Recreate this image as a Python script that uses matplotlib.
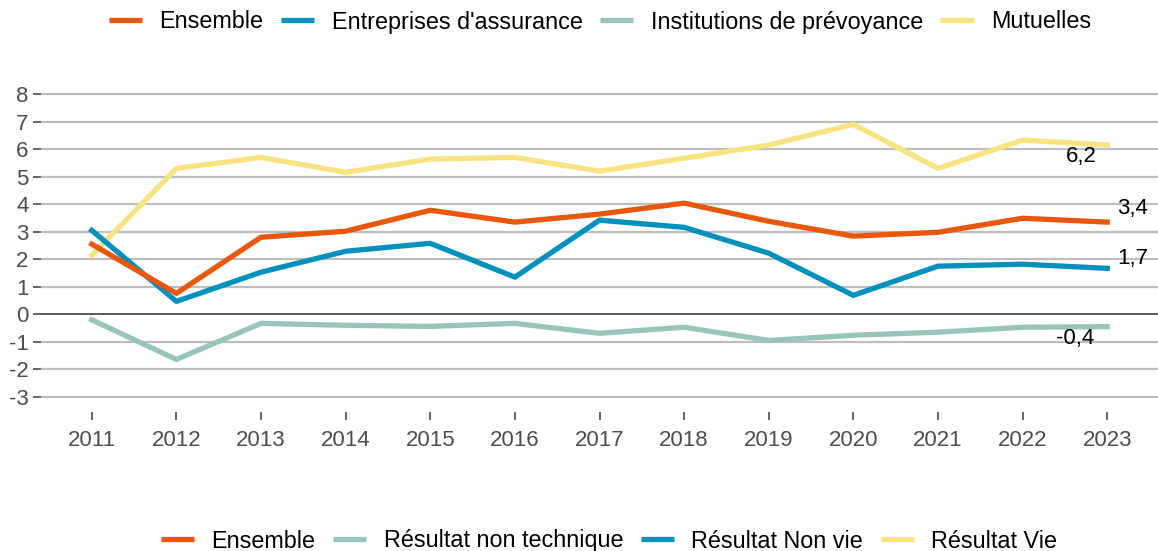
import matplotlib
matplotlib.use('Agg')
import matplotlib.pyplot as plt
from matplotlib.lines import Line2D

plt.rcParams['font.family'] = ['Liberation Sans', 'DejaVu Sans']
plt.rcParams['axes.unicode_minus'] = False

# ── data ─────────────────────────────────────────────────────────────────────
years = [2011, 2012, 2013, 2014, 2015, 2016, 2017, 2018, 2019, 2020, 2021, 2022, 2023]
ensemble = [2.55, 0.76, 2.80, 3.02, 3.78, 3.35, 3.64, 4.04, 3.38, 2.84, 2.98, 3.49, 3.35]
non_vie = [3.05, 0.47, 1.53, 2.29, 2.58, 1.35, 3.42, 3.16, 2.22, 0.69, 1.75, 1.82, 1.67]
non_technique = [-0.20, -1.64, -0.33, -0.40, -0.44, -0.33, -0.69, -0.47, -0.95, -0.76, -0.65, -0.47, -0.45]
vie = [2.15, 5.30, 5.70, 5.16, 5.64, 5.70, 5.20, 5.67, 6.15, 6.90, 5.30, 6.33, 6.15]

top_labels = ['Ensemble', "Entreprises d'assurance", 'Institutions de prévoyance', 'Mutuelles']
bottom_labels = ['Ensemble', 'Résultat non technique', 'Résultat Non vie', 'Résultat Vie']
end_labels = ['3,4', '1,7', '-0,4', '6,2']

C_ORANGE = '#E8570C'
C_BLUE = '#0090BC'
C_TEAL = '#98C4B9'
C_YELLOW = '#F7E382'

fig = plt.figure(figsize=(11.58, 5.51), dpi=100)
ax = fig.add_axes([41 / 1158, 1 - 412 / 551, (1158 - 41) / 1158, (412 - 79) / 551])

for v in range(-3, 9):
    if v == 0:
        continue
    ax.axhline(v, color='#BEBEBE', linewidth=1.6, zorder=0)
ax.axhline(0, color='#4D4D4D', linewidth=1.3, zorder=1)

lw = 3.8
ax.plot(years, non_technique, color=C_TEAL, linewidth=lw, zorder=2)
ax.plot(years, vie, color=C_YELLOW, linewidth=lw, zorder=2)
ax.plot(years, non_vie, color=C_BLUE, linewidth=lw, zorder=3)
ax.plot(years, ensemble, color=C_ORANGE, linewidth=lw, zorder=4)

# end-of-series value labels
fs_lab = 16
ax.text(years[-1] + 0.12, ensemble[-1] + 0.5, end_labels[0], fontsize=fs_lab, ha='left', va='center')
ax.text(years[-1] + 0.12, non_vie[-1] + 0.35, end_labels[1], fontsize=fs_lab, ha='left', va='center')
ax.text(years[-1] - 0.38, non_technique[-1] - 0.42, end_labels[2], fontsize=fs_lab, ha='center', va='center')
ax.text(years[-1] - 0.31, vie[-1] - 0.43, end_labels[3], fontsize=fs_lab, ha='center', va='center')

ax.set_xlim(years[0] - 0.6, years[-1] + 0.6)
ax.set_ylim(-3.55, 8.55)
ax.set_xticks(years)
ax.set_yticks(range(-3, 9))
for s in ax.spines.values():
    s.set_visible(False)
ax.tick_params(axis='both', colors='#4D4D4D', labelsize=16, length=6, width=1.2)
ax.tick_params(axis='x', pad=7)
ax.tick_params(axis='y', pad=3)
for lab in ax.get_xticklabels() + ax.get_yticklabels():
    lab.set_color('#4D4D4D')

leg_kw = dict(loc='center', ncol=4, frameon=False, fontsize=16.8, handlelength=1.42,
              handletextpad=0.75, columnspacing=0.75)

top_handles = [Line2D([], [], color=c, linewidth=3.8, solid_capstyle='butt')
               for c in (C_ORANGE, C_BLUE, C_TEAL, C_YELLOW)]
fig.legend(top_handles, top_labels, bbox_to_anchor=(600 / 1158, 1 - 22 / 551), **leg_kw)

bottom_handles = [Line2D([], [], color=c, linewidth=3.8, solid_capstyle='butt')
                  for c in (C_ORANGE, C_TEAL, C_BLUE, C_YELLOW)]
fig.legend(bottom_handles, bottom_labels, bbox_to_anchor=(609 / 1158, 1 - 541 / 551), **leg_kw)

fig.savefig('out.png', dpi=100)
